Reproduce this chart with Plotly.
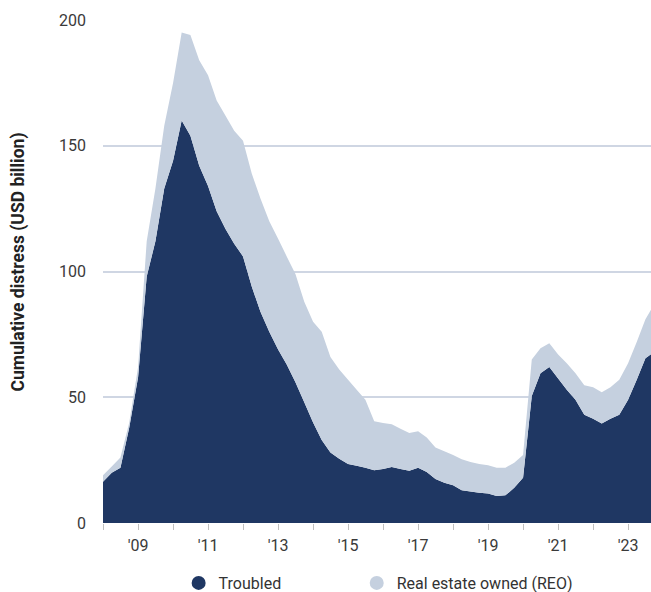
import plotly.graph_objects as go

# Quarterly observations, 2008 Q1 – 2023 Q4
quarters = [f"{y}-{m:02d}-01" for y in range(2008, 2024) for m in (1, 4, 7, 10)]

troubled = [16.4, 20, 22, 38, 58, 98, 112, 133, 144, 160, 154, 142, 134, 124, 117, 111,
            106, 94, 84, 76, 69, 63, 56, 48, 40, 33, 28, 25.5, 23.5, 22.8, 22, 21,
            21.5, 22.3, 21.5, 20.8, 22, 20.3, 17.5, 16, 15, 13, 12.5, 12, 11.7, 10.7, 11, 14,
            18, 50.5, 59.5, 62, 57.5, 53, 49, 43, 41.5, 39.6, 41.5, 43, 49, 57, 65.5, 68]

reo = [2.6, 2.5, 4, 2, 4, 14, 21, 25, 31, 35, 40, 42, 44, 44, 45, 45,
       46, 45, 45, 44, 44, 43, 43, 40, 40, 43, 38, 35.5, 33.5, 30.2, 27, 19.5,
       18.3, 17, 16, 15, 14.5, 13.7, 12.5, 12.5, 12, 12.3, 11.8, 11.5, 11.3, 11.3, 11, 10,
       9, 14.5, 10, 9.5, 9.5, 10.5, 10.5, 11.8, 12.5, 12.4, 12.5, 14, 14.5, 15, 15.5, 19]

tick_years = list(range(2008, 2024))
tick_vals = [f"{y}-01-01" for y in tick_years]
tick_text = [f"'{str(y)[2:]}" if y % 2 == 1 else "" for y in tick_years]

y_ticks = [0, 50, 100, 150, 200]

NAVY = "#1f3763"
LIGHT = "#c5d0df"
FONT = "Roboto"

fig = go.Figure()
fig.add_trace(go.Scatter(x=quarters, y=troubled, stackgroup="one", mode="none",
                         fillcolor=NAVY, line=dict(width=0), showlegend=False,
                         name="Troubled"))
fig.add_trace(go.Scatter(x=quarters, y=reo, stackgroup="one", mode="none",
                         fillcolor=LIGHT, line=dict(width=0), showlegend=False,
                         name="Real estate owned (REO)"))
# legend-only entries with circular markers
fig.add_trace(go.Scatter(x=[None], y=[None], mode="markers", name="Troubled",
                         legend="legend",
                         marker=dict(color=NAVY, size=14, symbol="circle")))
fig.add_trace(go.Scatter(x=[None], y=[None], mode="markers", name="Real estate owned (REO)",
                         legend="legend2",
                         marker=dict(color=LIGHT, size=14, symbol="circle")))

legend_common = dict(orientation="h", y=-0.0855, yanchor="top",
                     font=dict(size=16, color="#333"), itemsizing="trace",
                     bgcolor="rgba(0,0,0,0)")

fig.update_layout(
    width=651, height=592,
    margin=dict(l=103, r=0, t=20, b=69, autoexpand=False),
    paper_bgcolor="white", plot_bgcolor="white",
    font=dict(family=FONT, size=16, color="#3a3a3a"),
    showlegend=True,
    legend=dict(x=0.138, xanchor="left", **legend_common),
    legend2=dict(x=0.463, xanchor="left", **legend_common),
    xaxis=dict(type="date", range=["2008-01-01", "2023-08-28"],
               tickvals=tick_vals, ticktext=tick_text,
               ticks="outside", ticklen=6, tickcolor="#c0c0c0", tickwidth=1,
               ticklabelstandoff=2,
               showgrid=False, zeroline=False, showline=False,
               tickfont=dict(size=16, color="#3a3a3a")),
    yaxis=dict(range=[0, 200], tickvals=y_ticks, showgrid=True,
               gridcolor="#cfd6e3", gridwidth=1.5, zeroline=False, showline=False,
               ticks="", ticklabelstandoff=16,
               tickfont=dict(size=16, color="#3a3a3a")),
    annotations=[dict(text="<b>Cumulative distress (USD billion)</b>",
                      xref="paper", yref="paper", x=-0.155, y=0.518,
                      xanchor="center", yanchor="middle", textangle=-90,
                      showarrow=False, font=dict(size=17.5, color="#222", family=FONT))],
)

fig.write_html("out.html")
